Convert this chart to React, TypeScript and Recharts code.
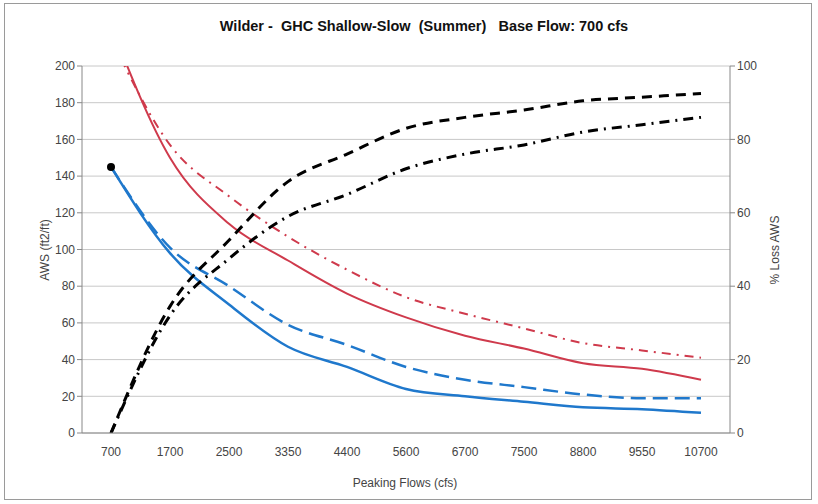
import { CartesianGrid, Line, LineChart, XAxis, YAxis } from "recharts";

const flows = ["700", "1700", "2500", "3350", "4400", "5600", "6700", "7500", "8800", "9550", "10700"];
const redSolid = [222, 150, 114, 94, 76, 63, 53, 46, 38, 35, 29];
const redDashDot = [215, 157, 129, 107, 89, 74, 65, 57, 49, 45, 41];
const blueSolid = [145, 98, 70, 47, 36, 24, 20, 17, 14, 13, 11];
const blueDashed = [145, 101, 80, 59, 48, 36, 29, 25, 21, 19, 19];
const lossDashed = [0, 34.5, 52.5, 68.5, 76, 83, 86, 88, 90.5, 91.5, 92.5];
const lossDashDot = [0, 32, 47.5, 59, 65, 72, 76, 78.5, 82, 84, 86];
const leftTicks = [0, 20, 40, 60, 80, 100, 120, 140, 160, 180, 200];
const rightTicks = [0, 20, 40, 60, 80, 100];

const data = flows.map((f, i) => ({
  flow: f,
  redSolid: redSolid[i],
  redDashDot: redDashDot[i],
  blueSolid: blueSolid[i],
  blueDashed: blueDashed[i],
  lossDashed: lossDashed[i],
  lossDashDot: lossDashDot[i],
}));

const RED = "#cf3a4c";
const BLUE = "#1f78cc";
const FONT = "'Liberation Sans', Arial, sans-serif";
const tick = { fontSize: 12, fill: "#444", fontFamily: FONT };

function FirstDot(props: any) {
  const { cx, cy, index } = props;
  if (index !== 0) return <g key={"d" + index} />;
  return <circle key={"d" + index} cx={cx} cy={cy} r={4} fill="#000" stroke="none" />;
}

export default function App() {
  return (
    <div style={{ position: "absolute", left: 0, top: 0, width: 818, height: 504, background: "#fff", fontFamily: FONT }}>
      <div style={{ position: "absolute", left: 4, top: 3, width: 806, height: 495, border: "1px solid #9a9a9a" }} />
      <div style={{ position: "absolute", left: 0, width: 848, top: 18, textAlign: "center", fontSize: 14.5, fontWeight: "bold", color: "#111", whiteSpace: "pre" }}>
        {"Wilder -  GHC Shallow-Slow  (Summer)   Base Flow: 700 cfs"}
      </div>
      <div style={{ position: "absolute", left: 45, top: 250, transform: "translate(-50%, -50%) rotate(-90deg)", fontSize: 12, color: "#444", whiteSpace: "nowrap" }}>
        AWS (ft2/ft)
      </div>
      <div style={{ position: "absolute", left: 775, top: 250, transform: "translate(-50%, -50%) rotate(-90deg)", fontSize: 12, color: "#444", whiteSpace: "nowrap" }}>
        % Loss AWS
      </div>
      <div style={{ position: "absolute", left: 405, top: 483, transform: "translate(-50%, -50%)", fontSize: 12, color: "#444", whiteSpace: "nowrap" }}>
        Peaking Flows (cfs)
      </div>
      <div style={{ position: "absolute", left: 0, top: 0 }}>
        <LineChart width={818} height={504} data={data} margin={{ top: 66, right: 48, left: 42, bottom: 41 }}>
          <CartesianGrid yAxisId="left" horizontal vertical={false} stroke="#c8c8c8" strokeWidth={1} />
          <XAxis
            dataKey="flow"
            padding={{ left: 29, right: 29 }}
            tick={tick}
            tickLine={false}
            axisLine={{ stroke: "#888" }}
            height={30}
            interval={0}
            tickMargin={8}
          />
          <YAxis
            yAxisId="left"
            domain={[0, 200]}
            ticks={leftTicks}
            allowDataOverflow
            width={40}
            tick={tick}
            tickLine={{ stroke: "#888" }}
            tickSize={5}
            axisLine={{ stroke: "#888" }}
            interval={0}
          />
          <YAxis
            yAxisId="right"
            orientation="right"
            domain={[0, 100]}
            ticks={rightTicks}
            allowDataOverflow
            width={40}
            tick={tick}
            tickLine={{ stroke: "#888" }}
            tickSize={5}
            axisLine={{ stroke: "#888" }}
            interval={0}
          />
          <Line yAxisId="left" type="monotone" dataKey="redDashDot" stroke={RED} strokeWidth={2} strokeDasharray="9 6 2 6" dot={false} isAnimationActive={false} />
          <Line yAxisId="left" type="monotone" dataKey="redSolid" stroke={RED} strokeWidth={2} dot={false} isAnimationActive={false} />
          <Line yAxisId="left" type="monotone" dataKey="blueDashed" stroke={BLUE} strokeWidth={2.5} strokeDasharray="15 7" dot={false} isAnimationActive={false} />
          <Line yAxisId="left" type="monotone" dataKey="blueSolid" stroke={BLUE} strokeWidth={2.5} dot={FirstDot} isAnimationActive={false} />
          <Line yAxisId="right" type="monotone" dataKey="lossDashed" stroke="#000" strokeWidth={3} strokeDasharray="10 7" dot={false} isAnimationActive={false} />
          <Line yAxisId="right" type="monotone" dataKey="lossDashDot" stroke="#000" strokeWidth={3} strokeDasharray="10 6 2 6" dot={false} isAnimationActive={false} />
        </LineChart>
      </div>
    </div>
  );
}
